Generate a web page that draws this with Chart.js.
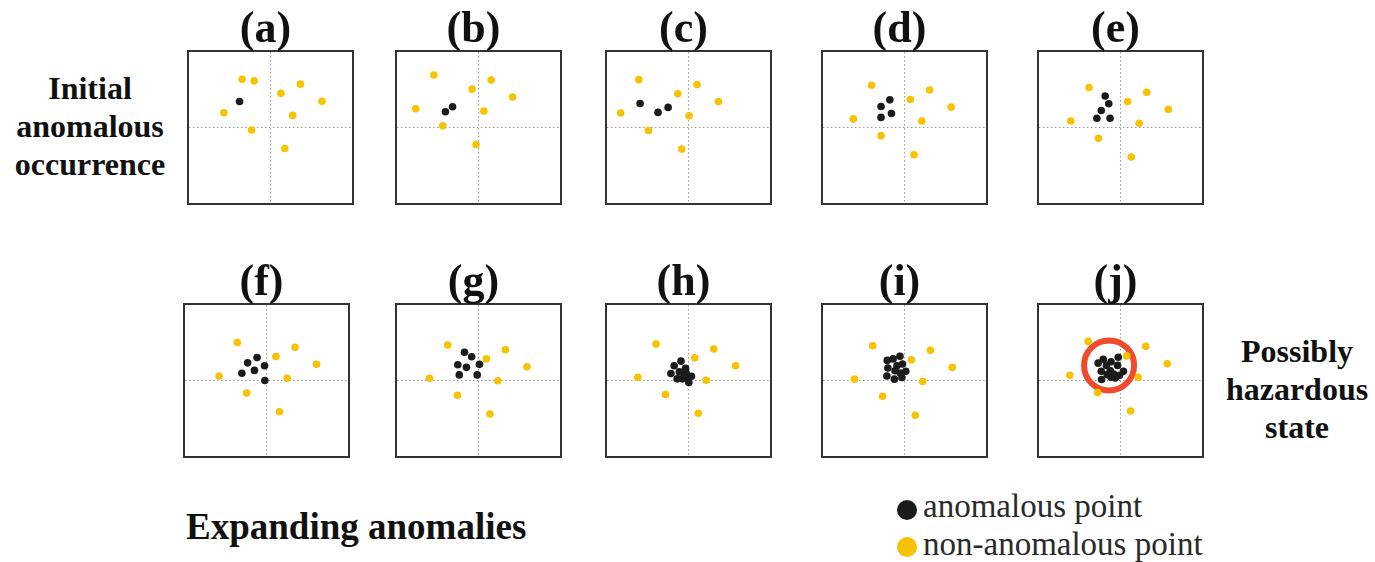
<!DOCTYPE html>
<html>
<head>
<meta charset="utf-8">
<script src="https://cdn.jsdelivr.net/npm/chart.js@4.4.1/dist/chart.umd.min.js"></script>
<style>
  body { margin:0; background:#fff; width:1375px; height:562px; position:relative; overflow:hidden; }
  .box { position:absolute; border:2px solid #333; box-sizing:border-box; width:167px; height:155px; background:#fff; }
  .box canvas { display:block; }
  .ttl { position:absolute; width:167px; text-align:center; font:bold 44px "Liberation Serif", serif; color:#111; line-height:50px; }
  .side { position:absolute; text-align:center; font:bold 32px/38px "Liberation Serif", serif; color:#111; }
  .leg { position:absolute; font:33px "Liberation Serif", serif; color:#2a2a2a; white-space:nowrap; line-height:36px; }
  .dot { position:absolute; width:20px; height:20px; border-radius:50%; }
</style>
</head>
<body>
<div class="side" style="left:0;top:69px;width:180px">Initial<br>anomalous<br>occurrence</div>
<div class="side" style="left:1212px;top:332px;width:170px">Possibly<br>hazardous<br>state</div>
<div class="side" style="left:186px;top:506px;font-size:37px;line-height:42px">Expanding anomalies</div>
<div class="dot" style="left:897px;top:500px;background:#1b1b1b"></div>
<div class="leg" style="left:923px;top:488px">anomalous point</div>
<div class="dot" style="left:897px;top:537px;background:#F7C300"></div>
<div class="leg" style="left:923px;top:526px">non-anomalous point</div>
<div id="wrap"></div>
<script>
// panel labels
var labels = ["(a)","(b)","(c)","(d)","(e)","(f)","(g)","(h)","(i)","(j)"];

// points per panel, [x, y] in a 0..100 frame (crosshair at 50)
var normalA = [[32.6,82.0],[40,80.9],[68.4,78.7],[56.4,72.6],[81.6,67.4],[21.4,59.8],[63.6,58.0],[38.4,48.3],[58.8,36.1]];
var anomA = [[31,67.2]];

var normalB = [[22.6,84.8],[57.8,81.5],[46.1,75.4],[70.9,70.2],[11.5,62.4],[53.3,60.9],[28.1,51.1],[48.5,38.7]];
var anomB = [[34.1,63.7],[29.7,60.4]];

var normalC = [[19.5,81.7],[55.2,78.5],[43.4,72.4],[68.3,67.2],[8.4,59.6],[50.4,57.8],[25.5,48.0],[45.8,35.7]];
var anomC = [[20.3,65.9],[37.5,63.3],[31.3,60.0]];

var normalD = [[29.8,78.0],[65.4,74.8],[53.6,68.5],[78.6,63.5],[18.6,55.7],[60.6,54.3],[35.6,44.6],[55.8,32.0]];
var anomD = [[41,68.3],[35.6,63.9],[42,59.3],[35.6,56.7]];

var normalE = [[30.7,76.5],[66.1,73.3],[54.4,67.2],[79.3,62.0],[19.5,54.3],[61.4,52.8],[36.5,42.8],[56.6,30.4]];
var anomE = [[40.6,70.9],[42.8,65.7],[38.2,61.3],[35.5,56.1],[43.6,56.1]];

var normalF = [[32.1,75.2],[67.5,72.0],[55.8,65.9],[80.7,60.7],[20.9,53.0],[62.7,51.5],[37.8,41.7],[58.0,29.3]];
var anomF = [[44.2,65.2],[38.4,61.7],[48.8,59.8],[42.6,56.7],[34.9,54.8],[49.0,50.0]];

var normalG = [[31.1,73.5],[66.5,70.4],[54.8,64.3],[79.7,59.1],[19.9,51.5],[61.8,49.8],[37.1,40.2],[57.0,27.8]];
var anomG = [[41.4,68.7],[45.8,65.7],[37.3,60.4],[50.6,60.7],[42.6,58.7],[38.2,53.7],[49.2,53.7]];

var normalH = [[30.1,74.1],[65.5,70.9],[53.8,65.0],[78.9,59.8],[18.9,52.2],[60.8,50.2],[35.9,40.7],[56.0,28.3]];
var anomH = [[45.4,62.8],[41.2,59.8],[48.2,58.0],[44.4,55.7],[39.2,54.6],[48.6,55.0],[47.8,53.3],[43.0,51.1],[46.2,51.1],[51.8,52.8],[49.4,51.1],[50.2,48.7]];

var normalI = [[30.5,73.0],[65.9,70.0],[54.2,63.7],[79.3,58.7],[19.3,50.9],[61.2,49.3],[36.5,39.6],[56.6,27.0]];
var anomI = [[47.2,66.1],[39.4,63.3],[43.0,64.3],[39.8,58.3],[45.4,59.8],[48.8,60.9],[44.2,56.5],[50.8,56.1],[47.4,55.0],[39.2,53.0],[43.8,50.9],[48.4,52.0]];

var normalJ = [[30.1,75.9],[65.5,72.6],[53.8,66.3],[78.7,61.1],[18.9,53.5],[60.8,52.2],[35.9,42.0],[56.2,29.8]];
var anomJ = [[39.4,64.1],[44.2,62.4],[48.6,65.4],[36.3,61.5],[41.4,60.0],[48.2,60.0],[38.2,56.1],[43.8,56.5],[51.8,56.1],[45.8,54.3],[49.4,53.5],[41.8,53.9],[38.4,50.7],[44.2,52.2],[46.8,51.7]];
var ringJ = [[43.0,60.0]];

var normals = [normalA,normalB,normalC,normalD,normalE,normalF,normalG,normalH,normalI,normalJ];
var anomalies = [anomA,anomB,anomC,anomD,anomE,anomF,anomG,anomH,anomI,anomJ];

// box positions
var lefts = [187,395,605,821,1037,183,395,605,821,1037];
var tops = [50,50,50,50,50,303,303,303,303,303];

const YELLOW = "#F7C300";
const BLACK = "#1b1b1b";
const RED = "#EF4B2C";

function toPts(arr){
  return arr.map(p => ({x:p[0], y:p[1]}));
}

function axis(){
  return {
    min:0, max:100,
    ticks:{display:false, stepSize:50},
    grid:{drawTicks:false, lineWidth:1, color: c => c.tick && c.tick.value === 50 ? "#9a9a9a" : "rgba(0,0,0,0)"},
    border:{display:false, dash:[1.5,2.5]}
  };
}

function makePanel(i){
  var wrap = document.getElementById("wrap");
  var t = document.createElement("div");
  t.className = "ttl";
  t.style.left = (lefts[i] - 5) + "px";
  t.style.top = (tops[i] - 47) + "px";
  t.textContent = labels[i];
  document.body.appendChild(t);

  var box = document.createElement("div");
  box.className = "box";
  box.style.left = lefts[i] + "px";
  box.style.top = tops[i] + "px";
  var cv = document.createElement("canvas");
  cv.width = 163; cv.height = 151;
  cv.style.width = "163px"; cv.style.height = "151px";
  box.appendChild(cv);
  wrap.appendChild(box);

  var sets = [
    {data: toPts(normals[i]), backgroundColor: YELLOW, borderWidth:0, pointRadius:3.8},
    {data: toPts(anomalies[i]), backgroundColor: BLACK, borderWidth:0, pointRadius:3.8}
  ];
  if (i === 9) {
    sets.push({data: toPts(ringJ), backgroundColor:"rgba(0,0,0,0)", borderColor: RED, borderWidth:6, pointRadius:25});
  }
  new Chart(cv, {
    type:"scatter",
    data:{datasets: sets},
    options:{
      responsive:false, animation:false,
      layout:{padding:0, autoPadding:false},
      plugins:{legend:{display:false}, tooltip:{enabled:false}},
      scales:{x: axis(), y: axis()}
    }
  });
}

for (let i = 0; i < 10; i++) makePanel(i);
</script>
</body>
</html>
